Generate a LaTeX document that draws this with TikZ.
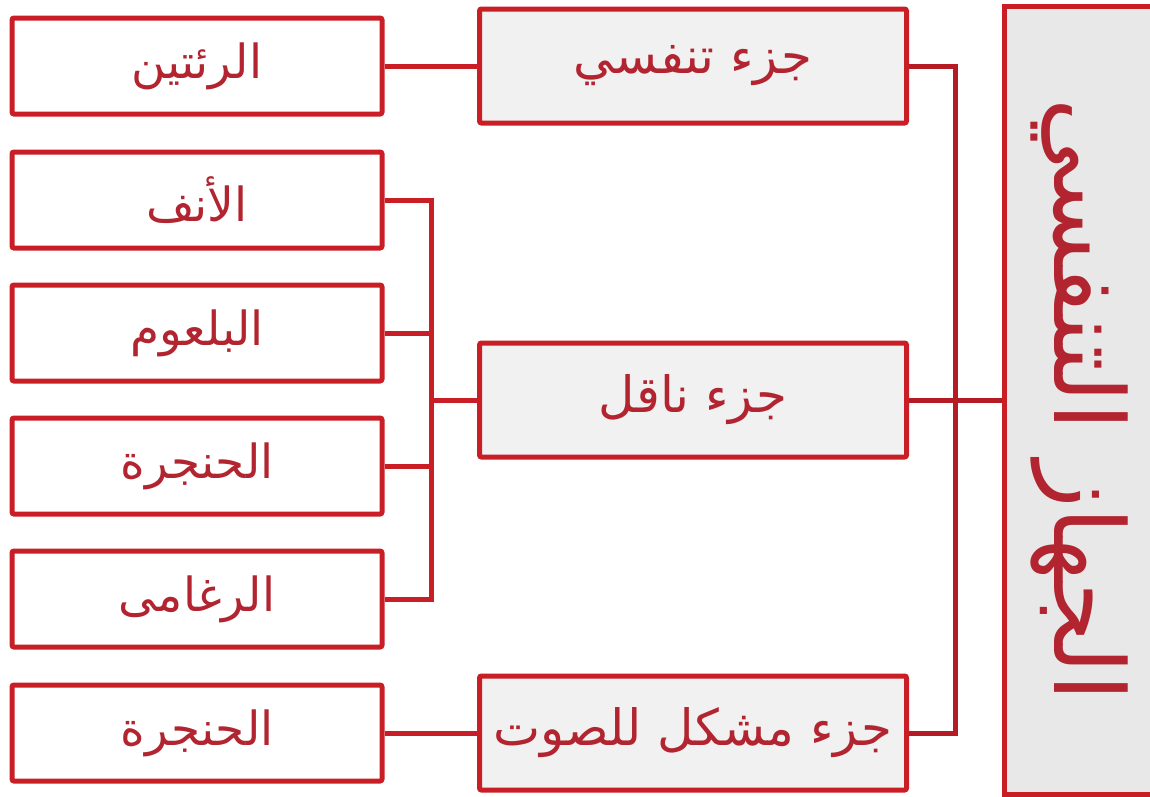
\documentclass[tikz,border=0pt]{standalone}
\usepackage{fontspec}
\newfontfamily\arabicfont[Script=Arabic]{DejaVu Sans}
\TeXXeTstate=1
\definecolor{boxred}{RGB}{201,30,38}
\definecolor{txtred}{RGB}{178,37,48}
\definecolor{linkred}{RGB}{180,27,36}
\definecolor{partgray}{RGB}{241,241,241}
\definecolor{titlegray}{RGB}{232,232,232}

\tikzset{
  organ/.style={draw=boxred,line width=5pt,rounded corners=2pt,fill=white,text=txtred,
    minimum width=370pt,minimum height=96pt,inner sep=0pt,
    font=\arabicfont\fontsize{47}{52}\selectfont},
  part/.style={organ,fill=partgray,minimum width=427pt,minimum height=114pt,
    font=\arabicfont\fontsize{50}{56}\selectfont},
  link/.style={draw=boxred,line width=5pt},
  mainlink/.style={draw=linkred,line width=5pt},
}

\begin{document}
\begin{tikzpicture}[x=1pt,y=-1pt]
    \useasboundingbox (0,0) rectangle (1150,796);
    % organs
    \node[organ] (lung) at (197,66) {\beginR الرئتين\endR};
    \node[organ] (nose) at (197,200) {\beginR الأنف\endR};
    \node[organ] (phar) at (197,333) {\beginR البلعوم\endR};
    \node[organ] (lar1) at (197,466) {\beginR الحنجرة\endR};
    \node[organ] (trach) at (197,599) {\beginR الرغامى\endR};
    \node[organ] (lar2) at (197,733) {\beginR الحنجرة\endR};
    % parts
    \node[part] (resp) at (693,66) {\beginR جزء تنفسي\endR};
    \node[part] (cond) at (693,400) {\beginR جزء ناقل\endR};
    \node[part] (voice) at (693,733) {\beginR جزء مشكل للصوت\endR};
    % system
    \node[draw=boxred,line width=5pt,fill=titlegray,text=txtred,rotate=-90,
      minimum width=788pt,minimum height=150pt,inner sep=0pt,
      font=\arabicfont\fontsize{97}{100}\selectfont] (sys) at (1079,400) {\beginR الجهاز التنفسي\endR};
    \coordinate (cj) at (431,400);
    \coordinate (sj) at (955,400);
    \draw[link] (lung.east)--(resp.west);
    \draw[link] (nose.east) -| (cj);
    \draw[link] (trach.east) -| (cj);
    \draw[link] (phar.east)--(phar.east -| cj);
    \draw[link] (lar1.east)--(lar1.east -| cj);
    \draw[link] (cj)--(cond.west);
    \draw[link] (lar2.east)--(voice.west);
    \draw[mainlink] (resp.east) -| (sj) |- (voice.east);
    \draw[mainlink] (cond.east)--(sys.south);
\end{tikzpicture}
\end{document}
